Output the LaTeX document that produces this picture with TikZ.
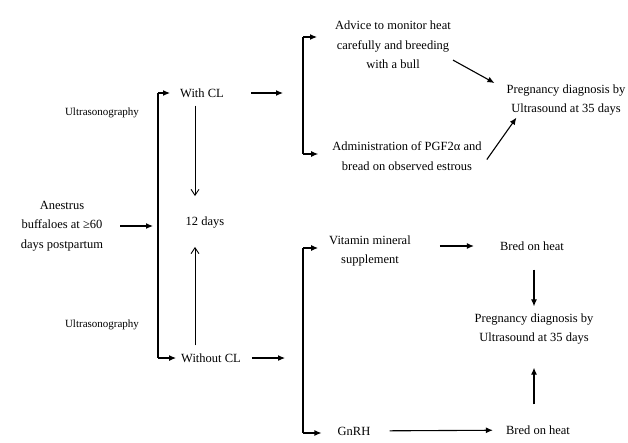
\documentclass[tikz,border=0pt]{standalone}
\usepackage{fontspec}
\setmainfont{Liberation Serif}
\usetikzlibrary{arrows.meta}

\tikzset{
  txt/.style={align=center, inner sep=2pt, font=\fontsize{12.5}{19.5}\selectfont},
  small txt/.style={inner sep=2pt, font=\fontsize{11}{13}\selectfont},
  arr/.style={-{Latex[length=7pt,width=6pt]}, line width=1.1pt},
  open arr/.style={-{Straight Barb[length=6pt,width=8pt]}, line width=0.9pt},
  bracket/.style={line width=1.1pt},
}

\begin{document}
\begin{tikzpicture}[x=1pt, y=-1pt]
\useasboundingbox (0,0) rectangle (628,442);
% Texte links
\node[txt] (start) at (62,226) {Anestrus\\buffaloes at ≥60\\days postpartum};
\node[small txt] (us1) at (102,113) {Ultrasonography};
\node[small txt] (us2) at (102,325) {Ultrasonography};
\node[txt] (withcl) at (202,93) {With CL};
\node[txt] (withoutcl) at (211,358) {Without CL};
\node[txt] (days) at (205,223) {12 days};
% Texte oben
\node[txt] (advice) at (393,45) {Advice to monitor heat\\carefully and breeding\\with a bull};
\node[txt] (pgf) at (407,156) {Administration of PGF2α and\\bread on observed estrous};
\node[txt] (preg1) at (566,100) {Pregnancy diagnosis by\\Ultrasound at 35 days};
% Texte unten
\node[txt] (vit) at (370,251) {Vitamin mineral\\supplement};
\node[txt] (bred1) at (532,246) {Bred on heat};
\node[txt] (preg2) at (534,329) {Pregnancy diagnosis by\\Ultrasound at 35 days};
\node[txt] (gnrh) at (354,431) {GnRH};
\node[txt] (bred2) at (538,430) {Bred on heat};
% Klammern
\coordinate (b1top) at (158,93);
\coordinate (b1bot) at (158,358);
\coordinate (b2top) at (303,37);
\coordinate (b2bot) at (303,154);
\coordinate (b3top) at (303,248);
\coordinate (b3bot) at (303,433);
\draw[bracket] (b1top) -- (b1bot);
\draw[bracket] (b2top) -- (b2bot);
\draw[bracket] (b3top) -- (b3bot);
% Pfeile
\draw[arr, shorten <=15pt, shorten >=5pt] (start) -- (start -| b1top);
\draw[arr, shorten >=8pt] (b1top) -- (withcl);
\draw[arr, shorten >=3pt] (b1bot) -- (withoutcl);
\draw[open arr, shorten <=6pt, shorten >=19pt] ([xshift=-7pt]withcl.south) -- ([xshift=-10pt]days.north);
\draw[open arr, shorten <=6pt, shorten >=16pt] ([xshift=-16pt]withoutcl.north) -- ([xshift=-10pt]days.south);
\draw[arr, shorten <=25pt, shorten >=20pt] (withcl) -- (withcl -| b2top);
\draw[arr, shorten <=9pt, shorten >=18pt] (withoutcl) -- (withoutcl -| b3top);
\draw[arr, shorten >=16pt] (b2top) -- (b2top -| advice.west);
\draw[arr, shorten >=12pt] (b2bot) -- (b2bot -| pgf.west);
\draw[arr] ([yshift=11pt]advice.south east) -- ([shift={(-10pt,17pt)}]preg1.west);
\draw[arr] ([shift={(3pt,-3.5pt)}]pgf.east) -- ([xshift=12pt]preg1.south west);
\draw[arr, shorten >=9pt] (b3top) -- (b3top -| vit.west);
\draw[arr, shorten >=14pt] (b3bot) -- (b3bot -| gnrh.west);
\draw[arr, shorten <=27pt, shorten >=24pt] (vit.east |- bred1) -- (bred1.west);
\draw[arr, shorten <=17pt, shorten >=5pt] (preg2.north |- bred1.south) -- (preg2.north);
\draw[arr, shorten <=19pt, shorten >=21pt] (preg2.south |- bred2.north) -- (preg2.south);
\draw[arr, shorten <=17pt, shorten >=11pt] (gnrh) -- (bred2);
\end{tikzpicture}
\end{document}
